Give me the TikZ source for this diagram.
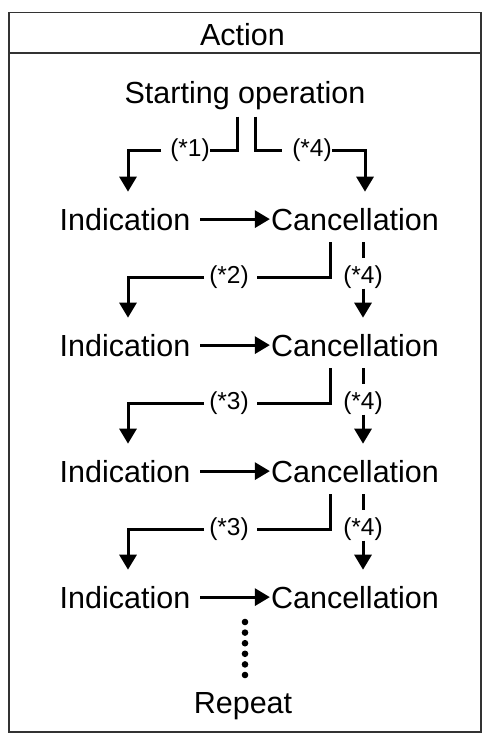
\documentclass[tikz,border=0pt]{standalone}
\usepackage{fontspec}
\setmainfont{Liberation Sans}
\usetikzlibrary{arrows.meta}
\begin{document}
\begin{tikzpicture}[x=1pt,y=-1pt,
    txt/.style={inner sep=0pt,anchor=base,font=\fontsize{30.5}{36}\selectfont},
    note/.style={inner sep=0pt,font=\fontsize{24.5}{28}\selectfont},
    flow/.style={line width=3pt},
    tip/.style={flow,-{Triangle[width=17pt,length=15pt]}}]
    \useasboundingbox (0,0) rectangle (484,734);
    \draw[line width=1.8pt,black!80] (9,12.5) rectangle (481,732);
    \draw[line width=1.8pt,black!80] (9,53) -- (481,53);
    \node[txt] (act) at (242.5,45) {Action};
    \node[txt] (start) at (245,103) {Starting operation};
    \foreach \i/\b in {1/230,2/356,3/482,4/608}{
        \node[txt] (ind\i) at (125,\b) {Indication};
        \node[txt] (can\i) at (355,\b) {Cancellation};
        \draw[tip] ([xshift=10pt]ind\i.east) -- ([xshift=-1pt]can\i.west);
    }
    \node[note] (lab0) at (190,150) {(*1)};
    \node[note] (four0) at (312,150) {(*4)};
    \draw[flow] ([shift={(-8,7)}]start.south) |- (lab0.east);
    \draw[tip] ([xshift=-9pt]lab0.west) -| ([shift={(3,-16)}]ind1.north);
    \draw[flow] ([shift={(10,7)}]start.south) |- ([xshift=-10pt]four0.west);
    \draw[tip] (four0.east) -| ([shift={(10,-16)}]can1.north);
    \foreach \i/\j/\n in {1/2/2,2/3/3,3/4/3}{
        \node[note] (lab\i) at ([shift={(-126,47)}]can\i.base) {(*\n)};
        \node[note] (four\i) at ([shift={(8,47)}]can\i.base) {(*4)};
        \draw[flow] ([shift={(-25,12)}]can\i.base) |- ([xshift=8pt]lab\i.east);
        \draw[tip] ([xshift=-5pt]lab\i.west) -| ([shift={(3,-16)}]ind\j.north);
        \draw[flow] ([shift={(8,12)}]can\i.base) -- ([shift={(0,-7)}]four\i.north);
        \draw[tip] (four\i.south) -- ([shift={(8,-16)}]can\j.north);
    }
    \foreach \k in {0,...,5}
        \fill (245,{622+10.6*\k}) circle (3.3pt);
    \node[txt] (rep) at (243,713) {Repeat};
\end{tikzpicture}
\end{document}
